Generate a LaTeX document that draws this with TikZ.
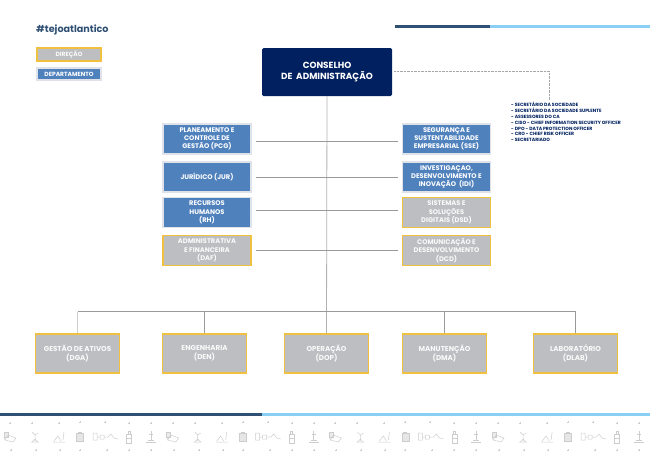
\documentclass[tikz,border=0pt]{standalone}
\usepackage{fontspec}
\setmainfont{Poppins}
\usetikzlibrary{positioning}
\definecolor{navy}{HTML}{002060}
\definecolor{deptblue}{HTML}{4F81BD}
\definecolor{dirgray}{HTML}{BDBEC1}
\definecolor{diryellow}{HTML}{F0C040}
\definecolor{deptedge}{HTML}{DFE2E8}
\definecolor{linegray}{HTML}{9A9A9A}
\definecolor{darkbar}{HTML}{2F4F73}
\definecolor{lightbar}{HTML}{8CCFF5}
\definecolor{icongray}{HTML}{CDCDCD}
\tikzset{
box/.style = { rectangle, align = center, inner sep = 0pt, text = white, font = \fontsize{6.7}{8.2}\selectfont\bfseries },
dept/.style = { box, draw = deptedge, fill = deptblue, line width = 1.5pt },
dir/.style = { box, draw = diryellow, fill = dirgray, line width = 1.7pt, text = white!92!dirgray },
side/.style = { minimum width = 88pt, minimum height = 30pt },
low/.style = { minimum width = 84pt, minimum height = 39pt, font = \fontsize{7.1}{8.8}\selectfont\bfseries },
legend/.style = { minimum width = 64pt, font = \fontsize{6}{7}\selectfont\bfseries },
link/.style = { draw = linegray, line width = 0.6pt },
icon/.style = { draw = icongray, line width = 0.5pt },
spark/.style = { draw = icongray, line width = 0.3pt },
pics/machine/.style = {
        code = {
        \path[icon, fill = icongray!40] (-6, -5) -- (-2, -5) -- (-2, 0) -- (-6, 0) -- cycle;
        \path[icon] (-2, -2) -- (6, 1) -- (3, 5) -- (-5, 3) -- cycle (-6, 0) -- (-5, 3);
        \path[spark] (-1, -14) -- (1, -14) (0, -15) -- (0, -13) (0, 13) -- (2, 13) (1, 12) -- (1, 14);
        }
    },
pics/plant/.style = {
        code = {
        \path[icon] (0, 4) -- (0, -2) (-4, 5) -- (4, 5) (-3, 5) -- (0, 2) -- (3, 5) (0, -2) -- (-3, -5) (0, -2) -- (3, -4);
        \path[spark] (-4, -14) -- (-2, -14) (-3, -15) -- (-3, -13) (0, 13) -- (2, 13) (1, 12) -- (1, 14);
        }
    },
pics/mound/.style = {
        code = {
        \path[icon] (-6, 5) -- (6, 5) (-5, 4) -- (-1, -1) -- (2, 4) (4, 3) -- (5, -5);
        \path[spark] (-1, -14) -- (1, -14) (0, -15) -- (0, -13) (0, 13) -- (2, 13) (1, 12) -- (1, 14);
        }
    },
pics/crate/.style = {
        code = {
        \path[icon, fill = icongray!50] (-3.5, -4) rectangle (3.5, 4);
        \path[icon] (-2, -5) -- (2, -5);
        \path[spark] (-1, -15) -- (1, -15) (0, -16) -- (0, -14) (-1, 13) -- (1, 13) (0, 12) -- (0, 14);
        }
    },
pics/chain/.style = {
        code = {
        \path[icon] (-12, -4) rectangle (-8, 3) (-8, 0) -- (-5, 0) (-5, -2) rectangle (-1, 2) (-1, 0) -- (3, 0) -- (6, -3) -- (9, 1) -- (13, 2);
        \path[spark] (-1, -15) -- (1, -15) (0, -16) -- (0, -14) (1, 13) -- (3, 13) (2, 12) -- (2, 14);
        }
    },
pics/bottle/.style = {
        code = {
        \path[icon] (-2.5, -3) rectangle (2.5, 6) (-1, -3) -- (-1, -6) -- (1, -6) -- (1, -3) (-2.5, 1) -- (2.5, 1);
        \path[spark] (-1, -14) -- (1, -14) (0, -15) -- (0, -13) (-1, 13) -- (1, 13) (0, 12) -- (0, 14);
        }
    },
pics/tap/.style = {
        code = {
        \path[icon] (0, -6) -- (0, 3) (-5, 5) -- (5, 5) (-3, 3) -- (3, 3) (-2, -3) -- (2, -3);
        \path[spark] (-1, -14) -- (1, -14) (0, -15) -- (0, -13) (-1, 13) -- (1, 13) (0, 12) -- (0, 14);
        }
    }
}
\begin{document}
\begin{tikzpicture}[x = 1pt, y = -1pt]
    \useasboundingbox (0, 0) rectangle (650, 459);
    % top and bottom bars
    \fill[darkbar] (395, 25) rectangle (490, 27.5);
    \fill[lightbar] (490, 25) rectangle (650, 27.5);
    \fill[darkbar] (0, 413) rectangle (262, 415.5);
    \fill[lightbar] (262, 413) rectangle (650, 415.5);
    % legend
    \node[anchor = west, inner sep = 0pt, text = darkbar, font = \fontsize{9.6}{11}\selectfont\bfseries] (tag) at (36, 30) {\#tejoatlantico};
    \node[dir, legend, minimum height = 13pt] (legdir) at (69, 54.5) {DIREÇÃO};
    \node[dept, legend, minimum height = 12pt] (legdept) at (69, 74) {DEPARTAMENTO};
    % board
    \node[box, fill = navy, minimum width = 130pt, minimum height = 48pt, rounded corners = 1.5pt, font = \fontsize{8.9}{11}\selectfont\bfseries] (board) at (327, 72) {CONSELHO\\ DE ~ADMINISTRAÇÃO};
    % left column
    \node[dept, side] (pcg) at (207, 139) {PLANEAMENTO E\\CONTROLE DE\\GESTÃO (PCG)};
    \node[dept, side] (jur) at (207, 177) {JURÍDICO (JUR)};
    \node[dept, side] (rh) at (207, 212.5) {RECURSOS\\HUMANOS\\(RH)};
    \node[dir, side] (daf) at (207, 250.5) {ADMINISTRATIVA\\E FINANCEIRA\\(DAF)};
    % right column
    \node[dept, side] (sse) at (446.5, 139) {SEGURANÇA E\\SUSTENTABILIDADE\\EMPRESARIAL (SSE)};
    \node[dept, side] (idi) at (446.5, 177) {INVESTIGAÇAO,\\DESENVOLVIMENTO E\\INOVAÇÃO ~(IDI)};
    \node[dir, side] (dsd) at (446.5, 212.5) {SISTEMAS E\\SOLUÇÕES\\DIGITAIS (DSD)};
    \node[dir, side] (dcd) at (446.5, 250.5) {COMUNICAÇÃO E\\DESENVOLVIMENTO\\(DCD)};
    % bottom row
    \node[dir, low] (dga) at (77.5, 353.5) {GESTÃO DE ATIVOS\\(DGA)};
    \node[dir, low] (den) at (204.5, 353.5) {ENGENHARIA\\(DEN)};
    \node[dir, low] (dop) at (326.5, 353.5) {OPERAÇÃO\\(DOP)};
    \node[dir, low] (dma) at (444.5, 353.5) {MANUTENÇÃO\\(DMA)};
    \node[dir, low] (dlab) at (575.5, 353.5) {LABORATÓRIO\\(DLAB)};
    % links
    \path[link, draw = black!30, line width = 0.8pt] (board.south) -- (dop.north);
    \path[link] ([xshift = 4pt, yshift = -2pt]pcg.east) -- ([xshift = -4pt, yshift = -2pt]sse.west);
    \path[link] ([xshift = 4pt]jur.east) -- ([xshift = -4pt]idi.west);
    \path[link] ([xshift = 4pt, yshift = 2.5pt]rh.east) -- ([xshift = -4pt, yshift = 2.5pt]dsd.west);
    \path[link] ([xshift = 4pt]daf.east) -- ([xshift = -4pt]dcd.west);
    \coordinate (barleft) at (77.5, 311.5);
    \coordinate (barright) at (575.5, 311.5);
    \path[link] (barleft) -- (barright);
    \path[link, draw = black!20, line width = 1pt] (barleft) -- (dga.north);
    \path[link] (den.north |- barleft) -- (den.north);
    \path[link] (dma.north |- barleft) -- (dma.north);
    \path[link] (barright) -- (dlab.north);
    % advisers
    \coordinate (boardout) at (394, 71);
    \coordinate (corner) at (549, 71);
    \coordinate (listtop) at (549, 100);
    \path[draw = black!35, densely dotted, line width = 0.4pt] (boardout) -- (corner) -- (listtop);
    \node[anchor = north west, align = left, inner sep = 0pt, text = navy, font = \fontsize{4.6}{5.9}\selectfont\bfseries] (staff) at (511, 101.8) {- SECRETÁRIO DA SOCIEDADE\\- SECRETÁRIO DA SOCIEDADE SUPLENTE\\- ASSESSORES DO CA\\- CISO - CHIEF INFORMATION SECURITY OFFICER\\- DPO - DATA PROTECTION OFFICER\\- CRO - CHIEF RISK OFFICER\\- SECRETARIADO};
    % icons
    \foreach \i in {0, 1, 2, 3} {
        \draw pic at (10 + 162.7 * \i, 437) {machine};
        \draw pic at (35 + 162.7 * \i, 437) {plant};
        \draw pic at (59 + 162.7 * \i, 437) {mound};
        \draw pic at (80 + 162.7 * \i, 437) {crate};
        \draw pic at (105 + 162.7 * \i, 437) {chain};
        \draw pic at (129 + 162.7 * \i, 437) {bottle};
        \draw pic at (151 + 162.7 * \i, 437) {tap};
    }
\end{tikzpicture}
\end{document}
